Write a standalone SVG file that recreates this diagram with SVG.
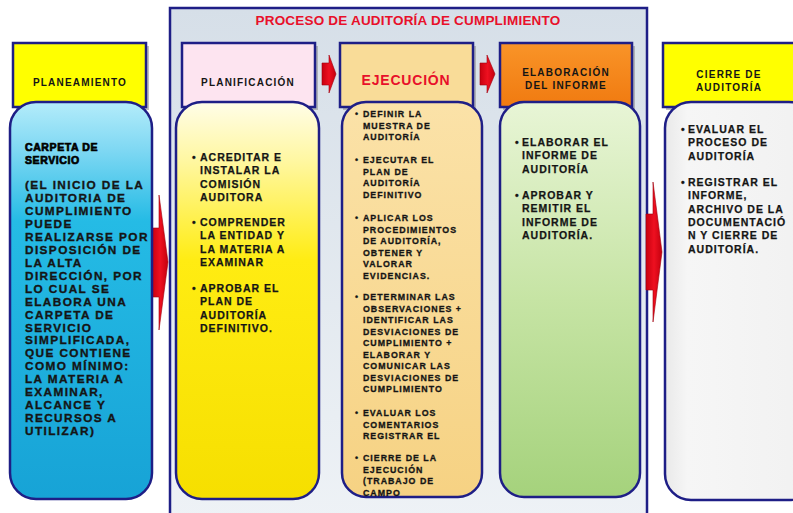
<svg xmlns="http://www.w3.org/2000/svg" width="793" height="513" viewBox="0 0 793 513">
<defs>
<style>
.t{font-family:"Liberation Sans",Arial,sans-serif;font-weight:bold;fill:#151515}
.hd{font-size:10px;letter-spacing:1.2px;text-anchor:middle}
.bl{font-size:11.8px;letter-spacing:1.4px;stroke:#151515;stroke-width:0.35}
.md{font-size:10.5px;letter-spacing:1px;stroke:#151515;stroke-width:0.25}
.sm{font-size:8.8px;letter-spacing:1px;stroke:#151515;stroke-width:0.3}
.hbox{stroke:#1e1e86;stroke-width:2.5}
.body{stroke:#1e1e86;stroke-width:2.5}
.shadow{fill:#8a8a8a;opacity:0.55}
.arrow{fill:url(#gRed);stroke:#a0000e;stroke-width:0.6}
</style>
<linearGradient id="gFrame" x1="0" y1="0" x2="0" y2="1">
<stop offset="0" stop-color="#d6dfe8"/><stop offset="1" stop-color="#eef2f6"/>
</linearGradient>
<linearGradient id="gBlue" x1="0" y1="0" x2="0" y2="1">
<stop offset="0" stop-color="#b4ecfa"/><stop offset="0.12" stop-color="#7fd8f3"/><stop offset="0.3" stop-color="#25bbe5"/><stop offset="1" stop-color="#17a3d6"/>
</linearGradient>
<linearGradient id="gYellow" x1="0" y1="0" x2="0" y2="1">
<stop offset="0" stop-color="#fffde8"/><stop offset="0.15" stop-color="#fff7a0"/><stop offset="0.4" stop-color="#ffec12"/><stop offset="1" stop-color="#f6df00"/>
</linearGradient>
<linearGradient id="gTan" x1="0" y1="0" x2="0" y2="1">
<stop offset="0" stop-color="#fbe2a8"/><stop offset="1" stop-color="#f6d283"/>
</linearGradient>
<linearGradient id="gGreen" x1="0" y1="0" x2="0" y2="1">
<stop offset="0" stop-color="#e8f5d6"/><stop offset="0.5" stop-color="#c6e4a4"/><stop offset="1" stop-color="#a5d27c"/>
</linearGradient>
<linearGradient id="gWhite" x1="0" y1="0" x2="1" y2="0">
<stop offset="0" stop-color="#e9e9e9"/><stop offset="0.15" stop-color="#f6f6f6"/><stop offset="1" stop-color="#f1f1f1"/>
</linearGradient>
<linearGradient id="gOrange" x1="0" y1="0" x2="0" y2="1">
<stop offset="0" stop-color="#f99428"/><stop offset="1" stop-color="#f07a10"/>
</linearGradient>
<linearGradient id="gRed" x1="0" y1="0" x2="1" y2="0">
<stop offset="0" stop-color="#c8000f"/><stop offset="0.5" stop-color="#ee1020"/><stop offset="1" stop-color="#c4000e"/>
</linearGradient>
</defs>
<rect width="793" height="513" fill="#ffffff"/>

<g id="proceso">
<rect x="170" y="8" width="477" height="515" fill="url(#gFrame)" stroke="#1e1e86" stroke-width="2.5"/>
<text class="t" x="408" y="25" text-anchor="middle" style="font-size:13.5px;fill:#e8102a;letter-spacing:0.2px">PROCESO DE AUDITORÍA DE CUMPLIMIENTO</text>
</g>

<g id="connectors">
<path class="arrow" d="M152,228 H159 V195 L168,262 L159,330 V297 H152 Z"/>
<path class="arrow" d="M646,214 H653 V182 L662,252 L653,322 V290 H646 Z"/>
<path class="arrow" d="M322,63 H329 V55 L336,74 L329,93 V85 H322 Z"/>
<path class="arrow" d="M480,63 H487 V55 L495,74 L487,93 V85 H480 Z"/>
</g>

<g id="planeamiento">
<rect class="shadow" x="16" y="46" width="133" height="64"/>
<rect class="hbox" x="13" y="43" width="133" height="64" fill="#ffff00"/>
<text class="t hd" x="80" y="86">PLANEAMIENTO</text>
<rect class="body" x="10" y="102" width="142" height="397" rx="26" fill="url(#gBlue)"/>
<text class="t" style="font-size:10.5px;letter-spacing:0.6px;stroke:#000;stroke-width:0.7;fill:#000">
<tspan x="25" y="151">CARPETA DE</tspan><tspan x="25" y="164">SERVICIO</tspan></text>
<text class="t bl">
<tspan x="25" y="189">(EL INICIO DE LA</tspan>
<tspan x="25" y="201.9">AUDITORIA DE</tspan>
<tspan x="25" y="214.9">CUMPLIMIENTO</tspan>
<tspan x="25" y="227.9">PUEDE</tspan>
<tspan x="25" y="240.8">REALIZARSE POR</tspan>
<tspan x="25" y="253.8">DISPOSICIÓN DE</tspan>
<tspan x="25" y="266.7">LA ALTA</tspan>
<tspan x="25" y="279.7">DIRECCIÓN, POR</tspan>
<tspan x="25" y="292.6">LO CUAL SE</tspan>
<tspan x="25" y="305.6">ELABORA UNA</tspan>
<tspan x="25" y="318.5">CARPETA DE</tspan>
<tspan x="25" y="331.5">SERVICIO</tspan>
<tspan x="25" y="344.4">SIMPLIFICADA,</tspan>
<tspan x="25" y="357.4">QUE CONTIENE</tspan>
<tspan x="25" y="370.3">COMO MÍNIMO:</tspan>
<tspan x="25" y="383.3">LA MATERIA A</tspan>
<tspan x="25" y="396.2">EXAMINAR,</tspan>
<tspan x="25" y="409.2">ALCANCE Y</tspan>
<tspan x="25" y="422.1">RECURSOS A</tspan>
<tspan x="25" y="435.1">UTILIZAR)</tspan>
</text>
</g>

<g id="planificacion">
<rect class="shadow" x="185" y="46" width="133" height="64"/>
<rect class="hbox" x="182" y="43" width="133" height="64" fill="#fde4f0"/>
<text class="t hd" x="248" y="86">PLANIFICACIÓN</text>
<rect class="body" x="176" y="102" width="143" height="397" rx="26" fill="url(#gYellow)"/>
<text class="t md">
<tspan x="192" y="161">•</tspan><tspan x="200" y="161">ACREDITAR E</tspan>
<tspan x="200" y="174.3">INSTALAR LA</tspan>
<tspan x="200" y="187.6">COMISIÓN</tspan>
<tspan x="200" y="200.9">AUDITORA</tspan>
<tspan x="192" y="226">•</tspan><tspan x="200" y="226">COMPRENDER</tspan>
<tspan x="200" y="239.3">LA ENTIDAD Y</tspan>
<tspan x="200" y="252.6">LA MATERIA A</tspan>
<tspan x="200" y="265.9">EXAMINAR</tspan>
<tspan x="192" y="292">•</tspan><tspan x="200" y="292">APROBAR EL</tspan>
<tspan x="200" y="305.3">PLAN DE</tspan>
<tspan x="200" y="318.6">AUDITORÍA</tspan>
<tspan x="200" y="331.9">DEFINITIVO.</tspan>
</text>
</g>

<g id="ejecucion">
<rect class="shadow" x="343" y="46" width="133" height="64"/>
<rect class="hbox" x="340" y="43" width="133" height="64" fill="#f9dc98"/>
<text class="t" x="406" y="85" text-anchor="middle" style="font-size:14px;fill:#e8102a;letter-spacing:0.8px">EJECUCIÓN</text>
<rect class="body" x="342" y="102" width="140" height="395" rx="24" fill="url(#gTan)"/>
<text class="t sm">
<tspan x="355" y="117">•</tspan><tspan x="363" y="117">DEFINIR LA</tspan>
<tspan x="363" y="128.5">MUESTRA DE</tspan>
<tspan x="363" y="140">AUDITORÍA</tspan>
<tspan x="355" y="163">•</tspan><tspan x="363" y="163">EJECUTAR EL</tspan>
<tspan x="363" y="174.5">PLAN DE</tspan>
<tspan x="363" y="186">AUDITORÍA</tspan>
<tspan x="363" y="197.5">DEFINITIVO</tspan>
<tspan x="355" y="221">•</tspan><tspan x="363" y="221">APLICAR LOS</tspan>
<tspan x="363" y="232.5">PROCEDIMIENTOS</tspan>
<tspan x="363" y="244">DE AUDITORÍA,</tspan>
<tspan x="363" y="255.5">OBTENER Y</tspan>
<tspan x="363" y="267">VALORAR</tspan>
<tspan x="363" y="278.5">EVIDENCIAS.</tspan>
<tspan x="355" y="300">•</tspan><tspan x="363" y="300">DETERMINAR LAS</tspan>
<tspan x="363" y="311.5">OBSERVACIONES +</tspan>
<tspan x="363" y="323">IDENTIFICAR LAS</tspan>
<tspan x="363" y="334.5">DESVIACIONES DE</tspan>
<tspan x="363" y="346">CUMPLIMIENTO +</tspan>
<tspan x="363" y="357.5">ELABORAR Y</tspan>
<tspan x="363" y="369">COMUNICAR LAS</tspan>
<tspan x="363" y="380.5">DESVIACIONES DE</tspan>
<tspan x="363" y="392">CUMPLIMIENTO</tspan>
<tspan x="355" y="416">•</tspan><tspan x="363" y="416">EVALUAR LOS</tspan>
<tspan x="363" y="427.5">COMENTARIOS</tspan>
<tspan x="363" y="439">REGISTRAR EL</tspan>
<tspan x="355" y="461">•</tspan><tspan x="363" y="461">CIERRE DE LA</tspan>
<tspan x="363" y="472.5">EJECUCIÓN</tspan>
<tspan x="363" y="484">(TRABAJO DE</tspan>
<tspan x="363" y="495.5">CAMPO</tspan>
</text>
</g>

<g id="elaboracion">
<rect class="shadow" x="503" y="46" width="132" height="64"/>
<rect class="hbox" x="500" y="43" width="132" height="64" fill="url(#gOrange)"/>
<text class="t hd" x="566" y="76">ELABORACIÓN</text>
<text class="t hd" x="566" y="89">DEL INFORME</text>
<rect class="body" x="500" y="102" width="140" height="395" rx="24" fill="url(#gGreen)"/>
<text class="t md">
<tspan x="515" y="146">•</tspan><tspan x="522" y="146">ELABORAR EL</tspan>
<tspan x="522" y="159.3">INFORME DE</tspan>
<tspan x="522" y="172.6">AUDITORÍA</tspan>
<tspan x="515" y="199">•</tspan><tspan x="522" y="199">APROBAR Y</tspan>
<tspan x="522" y="212.3">REMITIR EL</tspan>
<tspan x="522" y="225.6">INFORME DE</tspan>
<tspan x="522" y="238.9">AUDITORÍA.</tspan>
</text>
</g>

<g id="cierre">
<rect class="shadow" x="666" y="46" width="135" height="64"/>
<rect class="hbox" x="663" y="43" width="135" height="64" fill="#ffff00"/>
<text class="t hd" x="729" y="78">CIERRE DE</text>
<text class="t hd" x="729" y="91">AUDITORÍA</text>
<rect class="body" x="665" y="102" width="150" height="398" rx="26" fill="url(#gWhite)"/>
<text class="t md">
<tspan x="681" y="133">•</tspan><tspan x="688" y="133">EVALUAR EL</tspan>
<tspan x="688" y="146.3">PROCESO DE</tspan>
<tspan x="688" y="159.6">AUDITORÍA</tspan>
<tspan x="681" y="186">•</tspan><tspan x="688" y="186">REGISTRAR EL</tspan>
<tspan x="688" y="199.3">INFORME,</tspan>
<tspan x="688" y="212.6">ARCHIVO DE LA</tspan>
<tspan x="688" y="225.9">DOCUMENTACIÓ</tspan>
<tspan x="688" y="239.2">N Y CIERRE DE</tspan>
<tspan x="688" y="252.5">AUDITORÍA.</tspan>
</text>
</g>
</svg>
